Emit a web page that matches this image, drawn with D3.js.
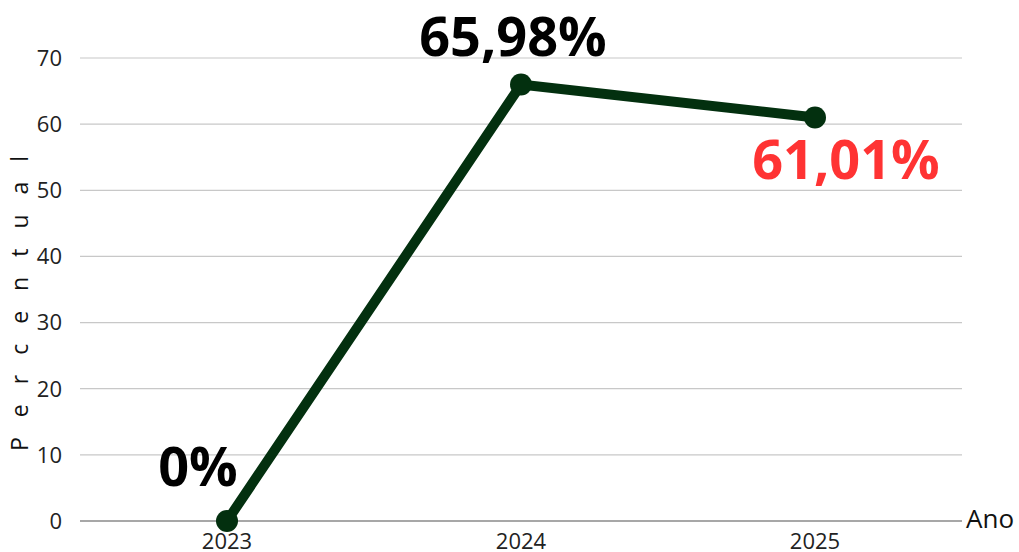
<!DOCTYPE html>
<html>
<head>
<meta charset="utf-8">
<script src="https://cdn.jsdelivr.net/npm/d3@7"></script>
<style>
body{margin:0;background:#fff;}
svg text{font-family:"Open Sans",sans-serif;}
</style>
</head>
<body>
<svg id="svg" width="1019" height="552"></svg>
<script>
var years=["2023","2024","2025"];
var values=[0,65.98,61.01];
var labels=["0%","65,98%","61,01%"];
var labelColors=["#000","#000","#ff3333"];
var yTicks=[0,10,20,30,40,50,60,70];

var marginLeft=80,plotRight=962,plotTop=58,plotBottom=521;

var svg=d3.select("#svg");

var x=d3.scaleBand().domain(years).range([marginLeft,plotRight]);
var y=d3.scaleLinear().domain([0,70]).range([plotBottom,plotTop]);

//grid
svg.append("g")
    .selectAll("line")
    .data(yTicks.slice(1)).enter().append("line")
        .attr("x1",marginLeft).attr("x2",plotRight)
        .attr("y1",d=>y(d)).attr("y2",d=>y(d))
        .attr("stroke","#c8c8c8").attr("stroke-width",1.2)

svg.append("line")
    .attr("x1",marginLeft).attr("x2",plotRight)
    .attr("y1",y(0)).attr("y2",y(0))
    .attr("stroke","#8a8a8a").attr("stroke-width",1.5)

//y labels
svg.append("g")
    .selectAll("text")
    .data(yTicks).enter().append("text")
        .attr("x",62).attr("y",d=>y(d))
        .attr("dy","0.36em")
        .attr("text-anchor","end")
        .style("font-size","22px")
        .attr("fill","#222")
        .text(d=>d)

//x labels
svg.append("g")
    .selectAll("text")
    .data(years).enter().append("text")
        .attr("x",d=>x(d)+x.bandwidth()/2).attr("y",549)
        .attr("text-anchor","middle")
        .style("font-size","22px")
        .attr("fill","#222")
        .text(d=>d)

svg.append("text")
    .attr("x",966).attr("y",528)
    .style("font-size","26px")
    .attr("fill","#111")
    .text("Ano")

svg.append("text")
    .attr("transform","translate(28,451) rotate(-90)")
    .style("font-size","23px")
    .style("letter-spacing","20px")
    .attr("fill","#111")
    .text("Percentual")

var line=d3.line()
    .x((d,i)=>x(years[i])+x.bandwidth()/2)
    .y(d=>y(d))

svg.append("path")
    .datum(values)
    .attr("d",line)
    .attr("fill","none")
    .attr("stroke","#03300f")
    .attr("stroke-width",10)

svg.selectAll("circle")
    .data(values).enter().append("circle")
        .attr("cx",(d,i)=>x(years[i])+x.bandwidth()/2)
        .attr("cy",d=>y(d))
        .attr("r",11)
        .attr("fill","#03300f")

//value labels
var labelPos=[{dx:-29,dy:-35},{dx:-8,dy:-29},{dx:31,dy:62}];
svg.append("g")
    .selectAll("text")
    .data(values).enter().append("text")
        .attr("x",(d,i)=>x(years[i])+x.bandwidth()/2+labelPos[i].dx)
        .attr("y",(d,i)=>y(d)+labelPos[i].dy)
        .attr("text-anchor","middle")
        .style("font-size","54px")
        .style("font-weight","bold")
        .attr("fill",(d,i)=>labelColors[i])
        .text((d,i)=>labels[i])
</script>
</body>
</html>
